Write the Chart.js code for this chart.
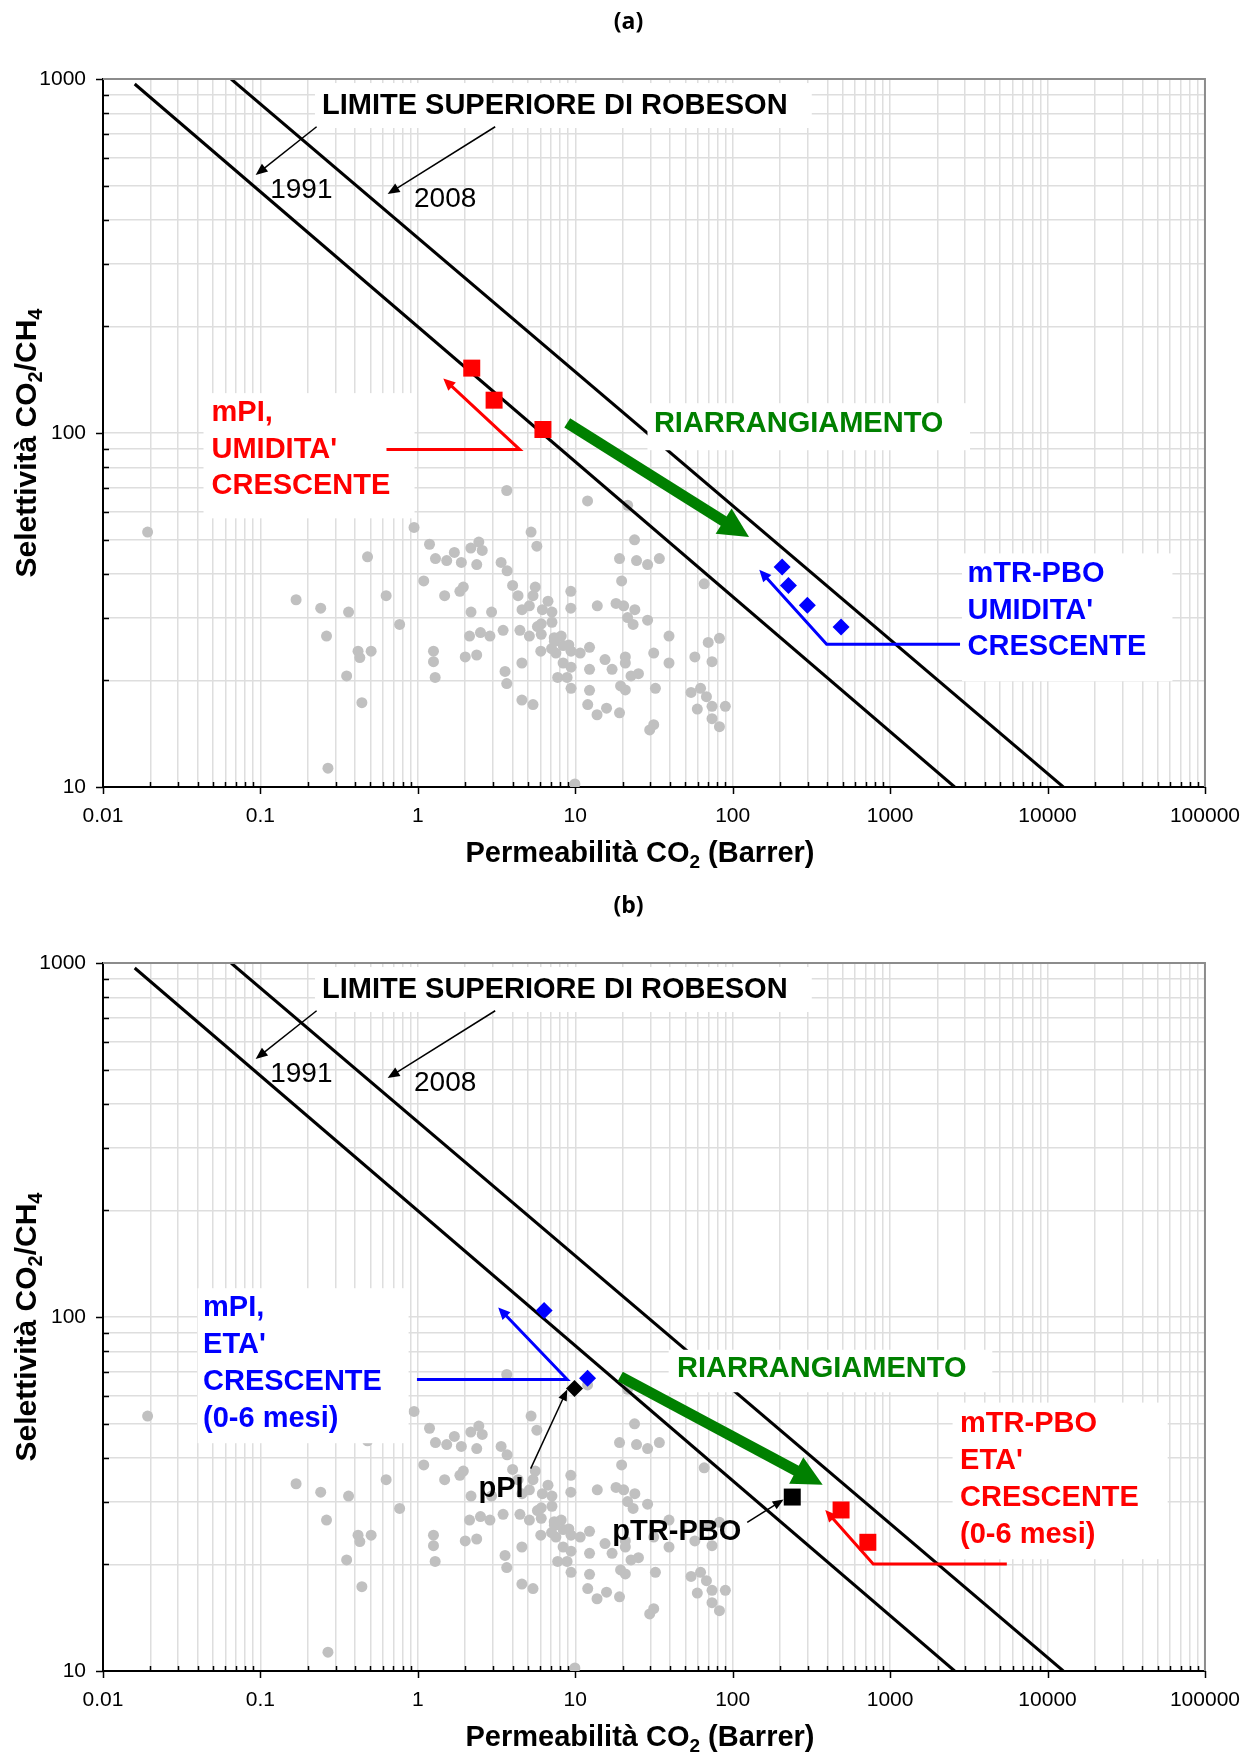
<!DOCTYPE html>
<html>
<head>
<meta charset="utf-8">
<script src="https://cdn.jsdelivr.net/npm/chart.js@4"></script>
<style>
  html, body { margin: 0; padding: 0; background: #fff; overflow: hidden; }
  canvas { display: block; }
</style>
</head>
<body>
<canvas id="graficoA" width="1257" height="884"></canvas>
<canvas id="graficoB" width="1257" height="884"></canvas>
<script>
(()=>{
// Banca dati (punti grigi): permeabilità CO2 [Barrer] e selettività CO2/CH4
const dbPerm = [0.0192, 3.67, 11.97, 21.5, 0.946, 5.24, 5.70, 1.186, 2.44, 2.565,
  2.17, 1.706, 1.294, 1.525, 1.889, 2.367, 0.479, 3.38, 3.69, 1.09,
  4.0, 1.945, 1.849, 1.48, 4.33, 5.57, 5.39, 9.37, 6.71, 0.629,
  0.1685, 0.2415, 0.363, 2.177, 2.94, 4.59, 5.11, 6.18, 7.11, 9.37,
  13.8, 18.15, 20.3, 21.5, 23.3, 7.11, 6.08, 5.75, 0.766, 3.48,
  4.45, 5.11, 6.08, 7.35, 2.13, 2.50, 2.87, 0.263, 8.14, 7.37,
  8.38, 9.10, 7.07, 6.04, 7.53, 9.40, 10.75, 12.32, 0.417, 0.505,
  0.428, 1.257, 1.257, 1.288, 2.0, 2.365, 4.58, 8.37, 9.4, 12.32,
  15.45, 17.13, 20.8, 20.8, 22.6, 7.73, 8.87, 0.353, 3.58, 3.67,
  9.4, 12.32, 19.4, 20.8, 0.441, 4.58, 5.39, 12.0, 13.75, 15.8,
  19.1, 0.2685, 9.94, 23.8, 19.1, 24.5, 28.8, 34.2, 19.7, 65.9,
  23.9, 28.8, 39.4, 69.9, 82.4, 31.5, 25.2, 39.4, 57.5, 73.9,
  32.3, 54.4, 62.5, 68.1, 59.6, 73.9, 89.8, 73.9, 82.4, 31.5, 29.7];
const dbSel = [52.5, 68.8, 64.3, 62.5, 54.1, 52.5, 47.9, 48.5, 49.2, 46.6,
  47.3, 46.0, 44.2, 43.6, 43.1, 42.5, 44.7, 43.1, 40.8, 38.2,
  37.1, 36.7, 35.7, 34.7, 34.7, 36.7, 34.7, 35.7, 33.5, 34.7,
  33.8, 32.0, 31.2, 31.2, 31.2, 31.7, 32.5, 31.7, 31.2, 32.0,
  32.5, 33.0, 32.5, 30.1, 28.8, 29.2, 28.9, 28.4, 28.8, 27.7,
  27.7, 26.7, 27.0, 26.4, 26.7, 27.3, 26.7, 26.7, 26.7, 25.8,
  25.1, 25.2, 24.6, 24.2, 23.9, 24.2, 23.9, 24.8, 24.2, 24.2,
  23.2, 24.2, 22.6, 20.4, 23.3, 23.6, 22.4, 22.4, 21.8, 21.5,
  22.9, 21.5, 23.3, 22.4, 20.6, 20.4, 20.4, 20.6, 21.2, 19.6,
  19.0, 18.75, 19.3, 18.8, 17.3, 17.6, 17.1, 17.1, 16.0, 16.7,
  16.2, 11.3, 10.2, 49.9, 44.2, 43.6, 42.5, 44.2, 38.2, 37.5,
  31.7, 29.6, 26.7, 25.6, 26.3, 23.9, 20.9, 22.4, 23.3, 22.6,
  19.0, 18.5, 19.0, 18.0, 16.6, 16.9, 16.9, 15.6, 14.8, 15.0, 14.5];

// Limiti superiori di Robeson (estremi delle rette)
const rob1991Perm = [0.0159, 2570];
const rob1991Sel = [968, 10];
const rob2008Perm = [0.0651, 12600];
const rob2008Sel = [1000, 10];

// (a) effetto dell'umidità
const mpiUmPerm = [2.20, 3.05, 6.23];
const mpiUmSel = [152.5, 123.8, 102.3];
const mtrUmPerm = [206, 226, 298, 488];
const mtrUmSel = [41.8, 37.1, 32.6, 28.3];

// (b) invecchiamento 0-6 mesi
const mpiEtaPerm = [6.34, 11.97];
const mpiEtaSel = [104.3, 67.1];
const mtrEtaPerm = [488, 722];
const mtrEtaSel = [28.5, 23.1];
const ppiPerm = [9.89];
const ppiSel = [62.8];
const ptrPerm = [239];
const ptrSel = [31.0];

// assi
const xDecadi = [0.01, 0.1, 1, 10, 100, 1000, 10000, 100000];
const xEtichette = ['0.01', '0.1', '1', '10', '100', '1000', '10000', '100000'];
const yDecadi = [10, 100, 1000];
const yEtichette = ['10', '100', '1000'];

const FONT = '"Liberation Sans", Arial, Helvetica, sans-serif';
const GRASSETTO = 'bold 29px ' + FONT;
const NORMALE = '28px ' + FONT;

const punti = (xs, ys) => xs.map((v, i) => ({x: v, y: ys[i]}));

function tacche(decadi) {
    const out = [];
    decadi.forEach((d, i) => {
        out.push({value: d, major: true});
        if (i < decadi.length - 1) {
            for (let m = 2; m <= 9; m++) out.push({value: Number((d * m).toPrecision(10)), major: false});
        }
    });
    return out;
}

// testo con pedici: parti = [[testo, pedice?], ...]
function scriviPedici(ctx, parti, x, y, size) {
    const fN = 'bold ' + size + 'px ' + FONT;
    const fS = 'bold ' + Math.round(size * 0.65) + 'px ' + FONT;
    let w = 0;
    parti.forEach(p => { ctx.font = p[1] ? fS : fN; w += ctx.measureText(p[0]).width; });
    let cx = x - w / 2;
    ctx.textAlign = 'left';
    ctx.textBaseline = 'alphabetic';
    parti.forEach(p => {
        ctx.font = p[1] ? fS : fN;
        ctx.fillText(p[0], cx, p[1] ? y + size * 0.2 : y);
        cx += ctx.measureText(p[0]).width;
    });
}

function punta(ctx, x0, y0, x1, y1, lung, semi) {
    const a = Math.atan2(y1 - y0, x1 - x0);
    ctx.beginPath();
    ctx.moveTo(x1, y1);
    ctx.lineTo(x1 - lung * Math.cos(a) + semi * Math.sin(a), y1 - lung * Math.sin(a) - semi * Math.cos(a));
    ctx.lineTo(x1 - lung * Math.cos(a) - semi * Math.sin(a), y1 - lung * Math.sin(a) + semi * Math.cos(a));
    ctx.closePath();
    ctx.fill();
}

const decorazioni = {
    id: 'decorazioni',
    afterDatasetsDraw(chart, args, opts) {
        const ctx = chart.ctx, sx = chart.scales.x, sy = chart.scales.y;
        const px = v => sx.getPixelForValue(v), py = v => sy.getPixelForValue(v);
        ctx.save();
        ctx.fillStyle = '#ffffff';
        (opts.riquadri || []).forEach(r => {
            const x0 = px(r.x[0]), x1 = px(r.x[1]), y0 = py(r.y[0]), y1 = py(r.y[1]);
            ctx.fillRect(x0, y0, x1 - x0, y1 - y0);
        });
        (opts.frecce || []).forEach(f => {
            const p = f.punti.map(q => [px(q[0]), py(q[1])]);
            const n = p.length;
            const [ax, ay] = p[n - 2], [bx, by] = p[n - 1];
            const L = Math.hypot(bx - ax, by - ay);
            const k = (L - f.punta[0] * 0.7) / L;
            ctx.strokeStyle = f.colore;
            ctx.fillStyle = f.colore;
            ctx.lineWidth = f.spessore;
            ctx.lineJoin = 'miter';
            ctx.lineCap = 'butt';
            ctx.beginPath();
            ctx.moveTo(p[0][0], p[0][1]);
            for (let i = 1; i < n - 1; i++) ctx.lineTo(p[i][0], p[i][1]);
            ctx.lineTo(ax + (bx - ax) * k, ay + (by - ay) * k);
            ctx.stroke();
            punta(ctx, ax, ay, bx, by, f.punta[0], f.punta[1]);
        });
        (opts.testi || []).forEach(t => {
            ctx.font = t.font || GRASSETTO;
            ctx.fillStyle = t.colore || '#000';
            ctx.textAlign = t.allinea || 'left';
            ctx.textBaseline = t.base || 'middle';
            const x = px(t.x), y = py(t.y);
            t.righe.forEach((r, i) => ctx.fillText(r, x, y + i * 36.8));
        });
        ctx.restore();
    },
    afterDraw(chart, args, opts) {
        const ctx = chart.ctx, a = chart.chartArea, sx = chart.scales.x, sy = chart.scales.y;
        ctx.save();
        // tacche: principali verso l'esterno, secondarie verso l'interno
        ctx.strokeStyle = '#000';
        ctx.lineWidth = 1.5;
        ctx.beginPath();
        sx.ticks.forEach(t => {
            const p = Math.round(sx.getPixelForValue(t.value)) + 0.5;
            ctx.moveTo(p, a.bottom);
            ctx.lineTo(p, t.major ? a.bottom + 7 : a.bottom - 5);
        });
        sy.ticks.forEach(t => {
            const p = Math.round(sy.getPixelForValue(t.value)) + 0.5;
            ctx.moveTo(a.left, p);
            ctx.lineTo(t.major ? a.left - 7 : a.left + 6, p);
        });
        ctx.stroke();
        // cornice superiore e destra
        ctx.strokeStyle = '#8c8c8c';
        ctx.lineWidth = 2;
        ctx.beginPath();
        ctx.moveTo(a.left, a.top);
        ctx.lineTo(a.right, a.top);
        ctx.lineTo(a.right, a.bottom);
        ctx.stroke();
        // titoli
        ctx.fillStyle = '#000';
        ctx.font = 'bold 23px "Open Sans", "Noto Sans", sans-serif';
        ctx.textAlign = 'center';
        ctx.textBaseline = 'middle';
        ctx.fillText(opts.pannello, chart.width / 2, 22);
        scriviPedici(ctx, [['Permeabilità CO', false], ['2', true], [' (Barrer)', false]],
            (a.left + a.right) / 2 - 14, a.bottom + 75, 29);
        ctx.translate(36, (a.top + a.bottom) / 2 + 10);
        ctx.rotate(-Math.PI / 2);
        scriviPedici(ctx, [['Selettività CO', false], ['2', true], ['/CH', false], ['4', true]], 0, 0, 30);
        ctx.restore();
    }
};

function serieBase() {
    return [
        {label: 'Robeson 1991', data: punti(rob1991Perm, rob1991Sel), showLine: true,
         borderColor: '#000', borderWidth: 3, pointRadius: 0, order: 2},
        {label: 'Robeson 2008', data: punti(rob2008Perm, rob2008Sel), showLine: true,
         borderColor: '#000', borderWidth: 3, pointRadius: 0, order: 2},
        {label: 'Letteratura', data: punti(dbPerm, dbSel), pointRadius: 5.5,
         backgroundColor: '#c0c0c0', borderWidth: 0, order: 3}
    ];
}

function opzioni(pannello, annot) {
    return {
        responsive: false,
        animation: false,
        events: [],
        layout: {padding: {top: 79, right: 47, left: 0, bottom: 0}},
        plugins: {
            legend: {display: false},
            tooltip: {enabled: false},
            decorazioni: Object.assign({pannello}, annot)
        },
        scales: {
            x: {
                type: 'logarithmic', min: 0.01, max: 100000,
                afterBuildTicks: s => { s.ticks = tacche(xDecadi); },
                afterFit: s => { s.height = 97; },
                ticks: {
                    autoSkip: false, maxRotation: 0, padding: 17, color: '#000',
                    font: {family: FONT, size: 21},
                    callback: v => { const k = xDecadi.indexOf(v); return k >= 0 ? xEtichette[k] : ''; }
                },
                grid: {color: '#dedede', lineWidth: 1.5, drawTicks: false},
                border: {color: '#000', width: 2}
            },
            y: {
                type: 'logarithmic', min: 10, max: 1000,
                afterBuildTicks: s => { s.ticks = tacche(yDecadi); },
                afterFit: s => { s.width = 103; },
                ticks: {
                    autoSkip: false, padding: 17, color: '#000',
                    font: {family: FONT, size: 21},
                    callback: v => { const k = yDecadi.indexOf(v); return k >= 0 ? yEtichette[k] : ''; }
                },
                grid: {color: '#dedede', lineWidth: 1.5, drawTicks: false},
                border: {color: '#000', width: 2}
            }
        }
    };
}

// riquadro e frecce comuni ai due pannelli
const robeson = {
    riquadri: [{x: [0.222, 318], y: [974, 727]}],
    testi: [
        {x: 0.246, y: 839, righe: ['LIMITE SUPERIORE DI ROBESON']},
        {x: 0.1154, y: 461, righe: ['1991'], font: NORMALE, base: 'alphabetic'},
        {x: 0.946, y: 434.6, righe: ['2008'], font: NORMALE, base: 'alphabetic'}
    ],
    frecce: [
        {punti: [[0.2275, 733], [0.0932, 535.5]], colore: '#000', spessore: 1.5, punta: [12, 5]},
        {punti: [[3.10, 733], [0.643, 473]], colore: '#000', spessore: 1.5, punta: [12, 5]}
    ]
};

// (a)
new Chart(document.getElementById('graficoA'), {
    type: 'scatter',
    data: {
        datasets: [
            {label: 'mPI', data: punti(mpiUmPerm, mpiUmSel), pointStyle: 'rect', pointRadius: 12,
             backgroundColor: '#ff0000', borderWidth: 0, order: 1},
            {label: 'mTR-PBO', data: punti(mtrUmPerm, mtrUmSel), pointStyle: 'rectRot', pointRadius: 8.5,
             backgroundColor: '#0000ff', borderWidth: 0, order: 1},
            ...serieBase()
        ]
    },
    options: opzioni('(a)', {
        riquadri: robeson.riquadri.concat([
            {x: [0.0435, 0.953], y: [129.6, 57.4]},
            {x: [28.75, 3217], y: [121.4, 89.4]},
            {x: [2862, 62150], y: [45.7, 19.9]}
        ]),
        testi: robeson.testi.concat([
            {x: 0.0489, y: 114.1, righe: ['mPI,', "UMIDITA'", 'CRESCENTE'], colore: '#ff0000'},
            {x: 31.6, y: 106.1, righe: ['RIARRANGIAMENTO'], colore: '#008000'},
            {x: 3102, y: 40.0, righe: ['mTR-PBO', "UMIDITA'", 'CRESCENTE'], colore: '#0000ff'}
        ]),
        frecce: robeson.frecce.concat([
            {punti: [[0.632, 89.8], [4.44, 89.8], [1.451, 142.6]], colore: '#ff0000', spessore: 3, punta: [12, 5.5]},
            {punti: [[2781, 25.3], [395.3, 25.3], [147.5, 41.1]], colore: '#0000ff', spessore: 3, punta: [12, 5.5]},
            {punti: [[8.89, 106.8], [127, 50.8]], colore: '#008000', spessore: 11, punta: [30, 15]}
        ])
    }),
    plugins: [decorazioni]
});

// (b)
new Chart(document.getElementById('graficoB'), {
    type: 'scatter',
    data: {
        datasets: [
            {label: 'mPI', data: punti(mpiEtaPerm, mpiEtaSel), pointStyle: 'rectRot', pointRadius: 8.5,
             backgroundColor: '#0000ff', borderWidth: 0, order: 1},
            {label: 'mTR-PBO', data: punti(mtrEtaPerm, mtrEtaSel), pointStyle: 'rect', pointRadius: 12,
             backgroundColor: '#ff0000', borderWidth: 0, order: 1},
            {label: 'pPI', data: punti(ppiPerm, ppiSel), pointStyle: 'rectRot', pointRadius: 8.5,
             backgroundColor: '#000', borderWidth: 0, order: 1},
            {label: 'pTR-PBO', data: punti(ptrPerm, ptrSel), pointStyle: 'rect', pointRadius: 12,
             backgroundColor: '#000', borderWidth: 0, order: 1},
            ...serieBase()
        ]
    },
    options: opzioni('(b)', {
        riquadri: robeson.riquadri.concat([
            {x: [0.0399, 0.8735], y: [120.6, 44.0]},
            {x: [39.2, 4458], y: [80.8, 61.3]},
            {x: [2494, 57970], y: [57.3, 20.7]}
        ]),
        testi: robeson.testi.concat([
            {x: 0.0432, y: 105.9, righe: ['mPI,', "ETA'", 'CRESCENTE', '(0-6 mesi)'], colore: '#0000ff'},
            {x: 44.3, y: 71.5, righe: ['RIARRANGIAMENTO'], colore: '#008000'},
            {x: 2781, y: 49.7, righe: ['mTR-PBO', "ETA'", 'CRESCENTE', '(0-6 mesi)'], colore: '#ff0000'},
            {x: 3.38, y: 31.0, righe: ['pPI'], allinea: 'center', base: 'alphabetic'},
            {x: 17.2, y: 23.4, righe: ['pTR-PBO'], base: 'alphabetic'}
        ]),
        frecce: robeson.frecce.concat([
            {punti: [[0.987, 66.6], [8.89, 66.6], [3.24, 106.4]], colore: '#0000ff', spessore: 3, punta: [12, 5.5]},
            {punti: [[5513, 20.05], [781, 20.05], [387.3, 28.5]], colore: '#ff0000', spessore: 3, punta: [12, 5.5]},
            {punti: [[5.21, 37.3], [8.89, 62.4]], colore: '#000', spessore: 1.5, punta: [11, 4.5]},
            {punti: [[123.7, 26.3], [210.5, 30.5]], colore: '#000', spessore: 1.5, punta: [11, 4.5]},
            {punti: [[19.3, 67.9], [372.9, 33.6]], colore: '#008000', spessore: 11, punta: [30, 15]}
        ])
    }),
    plugins: [decorazioni]
});
})();
</script>
</body>
</html>
